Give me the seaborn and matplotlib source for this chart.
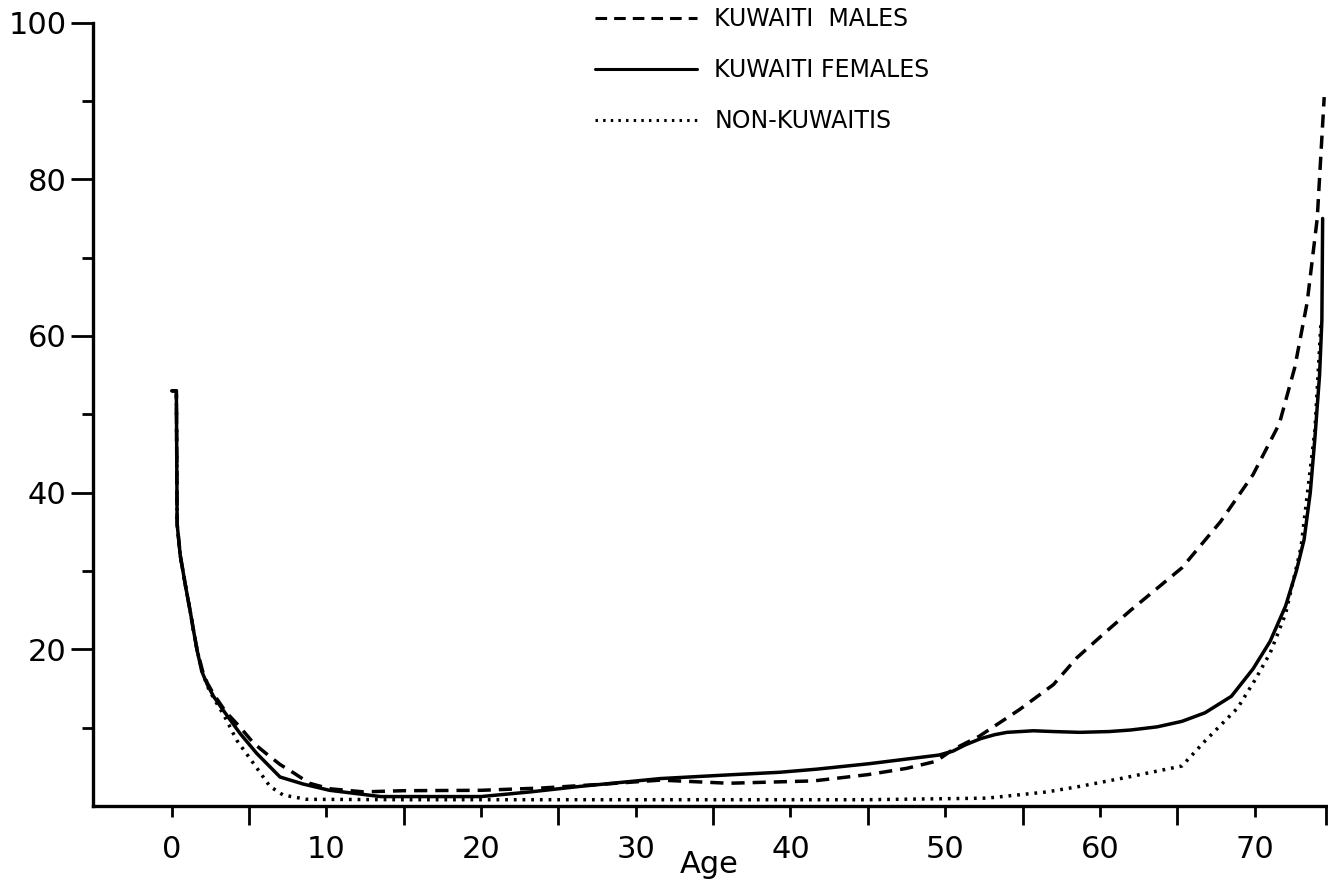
import numpy as np
import pandas as pd
import matplotlib
matplotlib.use("Agg")
import matplotlib.pyplot as plt
import seaborn as sns

# ---- data ----
male_age = [0, 0.3, 0.35, 0.55, 0.9, 1.2, 1.4, 1.65, 2.0, 2.3, 2.7, 3.5, 4.4, 5.3, 6.1,
            7.0, 7.9, 8.9, 10.2, 12.4, 15, 20, 24, 28, 31.6, 36, 41.5, 45, 47.5,
            49.4, 50.5, 52.2, 54.8, 57, 58.5, 60.6, 62, 65.3, 67.8, 69.9, 71.6, 72.6,
            73.4, 74.05, 74.5]
male_val = [53, 53, 36, 32, 28, 24.8, 22.5, 19.8, 17.2, 15.7, 14.3, 12.0, 10.1, 8.0, 6.7,
            5.3, 4.2, 2.9, 2.2, 1.8, 1.95, 2.0, 2.3, 2.8, 3.3, 2.9, 3.2, 4.0, 4.8,
            5.7, 7.2, 8.9, 12.3, 15.5, 18.9, 22.6, 25.0, 30.4, 36.3, 42.3, 48.8, 56.0,
            64.3, 75.0, 90.5]

female_age = [0, 0.3, 0.35, 0.55, 0.9, 1.2, 1.4, 1.65, 1.94, 2.3, 2.7, 3.3, 4.4, 5.5,
              7.0, 8.5, 10.2, 13.5, 20, 23.2, 26.4, 31.6, 36.3, 39.3, 41.7, 45.1,
              49.6, 50.5, 51.3, 52.3, 53.2, 54, 55.7, 57, 58.7, 60.6, 62, 63.7, 65.3,
              66.8, 68.5, 69.9, 71.0, 72.0, 72.7, 73.2, 73.6, 73.9, 74.2, 74.35, 74.4]
female_val = [53, 53, 36, 32, 28, 24.8, 22.5, 19.8, 17.2, 15.5, 14.0, 12.3, 9.3, 6.7,
              3.7, 2.8, 2.0, 1.2, 1.2, 1.8, 2.5, 3.5, 4.0, 4.3, 4.7, 5.4,
              6.5, 7.0, 7.8, 8.6, 9.1, 9.4, 9.6, 9.5, 9.4, 9.5, 9.7, 10.1, 10.8,
              11.9, 14.0, 17.5, 21.0, 25.5, 30.0, 34.0, 40.0, 47.0, 55.0, 62.0, 75.0]

nonkw_age = [0, 0.3, 0.35, 0.55, 0.9, 1.2, 1.4, 1.65, 2.0, 2.3, 2.7, 3.4, 4.2, 5.3,
             6.35, 7.2, 8.7, 15, 30, 45, 52.7, 56.6, 58.7, 61.6, 65.3, 66.8, 68.9,
             70.0, 71.0, 72.0, 73.0, 73.9, 74.3]
nonkw_val = [53, 53, 36, 32, 28, 24.8, 22.5, 19.8, 17.0, 15.3, 13.8, 11.5, 8.4, 5.4,
             2.5, 1.4, 0.85, 0.8, 0.8, 0.8, 1.0, 1.8, 2.5, 3.6, 5.1, 8.3, 12.5,
             16.0, 19.5, 24.5, 33.0, 48.0, 62.0]

series_names = ["KUWAITI  MALES", "KUWAITI FEMALES", "NON-KUWAITIS"]
x_major = [0, 10, 20, 30, 40, 50, 60, 70]
y_major = [20, 40, 60, 80, 100]

# ---- styling ----
sns.set_theme(style="ticks")
plt.rcParams["font.family"] = ["DejaVu Sans"]
plt.rcParams["text.color"] = "black"
plt.rcParams["axes.labelcolor"] = "black"

fig = plt.figure(figsize=(13.28, 8.85), dpi=100)
ax = fig.add_axes([0.0699, 0.0893, 0.9284, 0.8851])

styles = [(0, (3.8, 2.3)), "-", (0, (0.8, 1.7))]
datasets = [(male_age, male_val), (female_age, female_val), (nonkw_age, nonkw_val)]
for (xa, ya), name, ls in zip(datasets, series_names, styles):
    df = pd.DataFrame({"Age": xa, "rate": ya})
    sns.lineplot(data=df, x="Age", y="rate", ax=ax, color="black", linewidth=2.5,
                 linestyle=ls, sort=False, estimator=None, label=name)

ax.set_xlim(-5.1, 74.6)
ax.set_ylim(0, 100)
sns.despine(ax=ax)
for sp in ["left", "bottom"]:
    ax.spines[sp].set_linewidth(2.4)
    ax.spines[sp].set_color("black")

ax.set_xticks(x_major)
ax.set_xticks([5, 15, 25, 35, 45, 55, 65, 74.6], minor=True)
ax.set_yticks(y_major)
ax.set_yticks([10, 30, 50, 70, 90], minor=True)
ax.set_xticklabels([str(v) for v in x_major])
ax.set_yticklabels([str(v) for v in y_major])

ax.tick_params(axis="x", which="major", direction="out", length=8, width=2.0,
               pad=13, labelsize=22, color="black", labelcolor="black")
ax.tick_params(axis="x", which="minor", direction="out", length=14, width=2.0,
               color="black")
ax.tick_params(axis="y", which="major", direction="out", length=16, width=2.0,
               pad=3, labelsize=22, color="black", labelcolor="black")
ax.tick_params(axis="y", which="minor", direction="out", length=8, width=2.0,
               color="black")

ax.set_xlabel("Age", fontsize=22, labelpad=-10, color="black")
ax.set_ylabel("")

leg = ax.legend(loc="upper left", bbox_to_anchor=(595 / 1328, 1 - 7 / 885),
                bbox_transform=fig.transFigure, frameon=False, fontsize=17,
                handlelength=4.3, handletextpad=0.76, labelspacing=1.15,
                borderpad=0, borderaxespad=0, labelcolor="black")
for line in leg.get_lines():
    line.set_linewidth(2.2)

fig.savefig("out.png", dpi=100, facecolor="white")
